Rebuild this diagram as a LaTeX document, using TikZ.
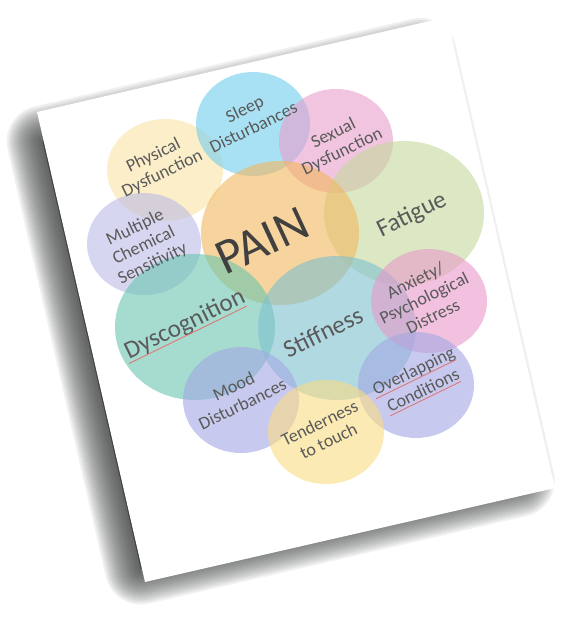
\documentclass[tikz,border=0pt]{standalone}
\usepackage{fontspec}
\setmainfont{Carlito}
\definecolor{cSleep}{RGB}{112,205,238}
\definecolor{cSex}{RGB}{233,157,203}
\definecolor{cPhys}{RGB}{250,228,165}
\definecolor{cPain}{RGB}{243,183,93}
\definecolor{cFat}{RGB}{197,217,157}
\definecolor{cMcs}{RGB}{187,187,230}
\definecolor{cDys}{RGB}{105,198,175}
\definecolor{cStiff}{RGB}{125,192,208}
\definecolor{cAnx}{RGB}{233,152,202}
\definecolor{cOver}{RGB}{162,168,227}
\definecolor{cMood}{RGB}{162,168,227}
\definecolor{cTend}{RGB}{250,220,130}
\definecolor{txtgray}{RGB}{90,90,90}
\definecolor{paingray}{RGB}{64,64,64}
\definecolor{shadowgray}{RGB}{50,52,52}
\definecolor{ulred}{RGB}{222,120,120}
\begin{document}
\begin{tikzpicture}[x=1pt,y=-1pt,
  bub/.style={fill=#1,fill opacity=0.6,draw=none},
  lbl/.style={text=txtgray,font=\fontsize{18}{20}\selectfont,align=center,rotate=26,inner sep=0pt},
  biglbl/.style={text=txtgray,font=\fontsize{25}{28}\selectfont,rotate=26,inner sep=0pt},
  painlbl/.style={text=paingray,font=\fontsize{50}{55}\selectfont,rotate=25,inner sep=0pt},
  redline/.style={draw=ulred,line width=0.9pt},
  shadowlayer/.style={fill=shadowgray,draw=shadowgray,opacity=0.075,line width=#1,line join=round}]
\useasboundingbox (0,0) rectangle (587,631);
% paper shadow (soft, towards lower left)
\foreach \w in {72,68,...,4}
  \path[shadowlayer=\w pt] (42.7,141.5) -- (420.6,53.8) -- (518.7,480.8) -- (140.8,568.5) -- cycle;
% paper
\coordinate (tl) at (37,112);
\coordinate (tr) at (447,17);
\coordinate (br) at (555,488);
\coordinate (bl) at (145,582);
\fill[white] (tl) -- (tr) -- (br) -- (bl) -- cycle;
% bubbles
\fill[bub=cPhys]  (165,170) ellipse [x radius=58, y radius=51];
\fill[bub=cSleep] (253,124) ellipse [x radius=57, y radius=52];
\fill[bub=cSex]   (336,141) ellipse [x radius=57, y radius=52];
\fill[bub=cFat]   (404,213) ellipse [x radius=80, y radius=72];
\fill[bub=cMcs]   (144,244) ellipse [x radius=57, y radius=51];
\fill[bub=cPain]  (280,233) ellipse [x radius=79, y radius=72];
\fill[bub=cDys]   (195,327) ellipse [x radius=80, y radius=73];
\fill[bub=cStiff] (337,328) ellipse [x radius=79, y radius=72];
\fill[bub=cAnx]   (429,301) ellipse [x radius=58, y radius=52];
\fill[bub=cOver]  (416,385) ellipse [x radius=58, y radius=53];
\fill[bub=cMood]  (241,400) ellipse [x radius=58, y radius=53];
\fill[bub=cTend]  (326,432) ellipse [x radius=58, y radius=52];
% labels
\node[lbl] (tsleep) at (249,118) {Sleep\\Disturbances};
\node[lbl] (tsex) at (338,143) {Sexual\\Dysfunction};
\node[lbl] (tphys) at (158,165) {Physical\\Dysfunction};
\node[painlbl] (tpain) at (262,241) {PAIN};
\node[biglbl] (tfat) at (412,215) {Fatigue};
\node[lbl] (tmcs) at (144,246) {Multiple\\Chemical\\Sensitivity};
\node[biglbl] (tdys) at (185,325) {Dyscognition};
\node[biglbl] (tstiff) at (323,332) {Stiffness};
\node[lbl] (tanx) at (424,298) {Anxiety/\\Psychological\\Distress};
\node[lbl] (tov1) at (414,372) {Overlapping};
\node[lbl] (tov2) at (423,390) {Conditions};
\node[lbl] (tmood) at (238,395) {Mood\\Disturbances};
\node[lbl] (ttend) at (324,432) {Tenderness\\to touch};
% spell-check underlines
\draw[redline] ([yshift=-4pt]tdys.base west) -- ([yshift=-4pt]tdys.base east);
\draw[redline] ([yshift=-3pt]tov1.base west) -- ([yshift=-3pt]tov1.base east);
\draw[redline] ([yshift=-3pt]tov2.base west) -- ([yshift=-3pt]tov2.base east);
\end{tikzpicture}
\end{document}
